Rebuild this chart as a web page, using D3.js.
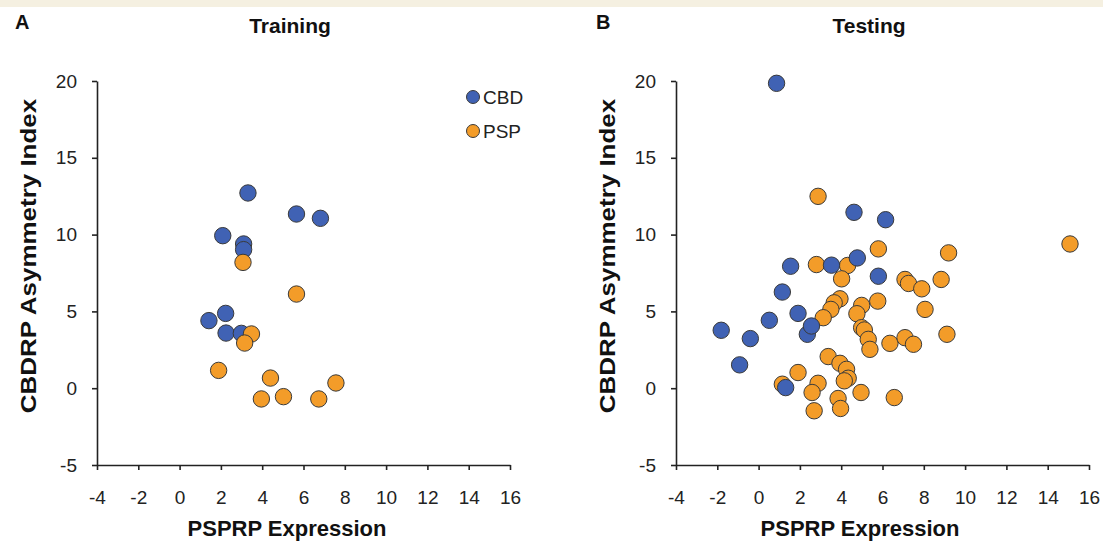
<!DOCTYPE html>
<html>
<head>
<meta charset="utf-8">
<script src="https://cdn.jsdelivr.net/npm/d3@7"></script>
<style>
  body { margin: 0; background: #fff; }
  svg { display: block; font-family: Arial, "Liberation Sans", sans-serif; }
</style>
</head>
<body>
<div id="chart"></div>
<script>
// data: [PSPRP expression, CBDRP asymmetry index]
const trainCBD = [
  [3.31, 12.71], [5.66, 11.34], [6.82, 11.06], [2.09, 9.93], [3.10, 9.39],
  [3.10, 9.02], [2.23, 4.87], [1.42, 4.40], [2.25, 3.59], [2.99, 3.57]
];
const trainPSP = [
  [3.07, 8.19], [5.66, 6.13], [3.48, 3.53], [3.15, 2.94], [1.89, 1.16],
  [4.40, 0.66], [7.57, 0.34], [3.96, -0.70], [5.03, -0.55], [6.74, -0.70]
];
const testCBD = [
  [0.87, 19.85], [4.62, 11.45], [6.15, 10.97], [4.78, 8.48], [3.53, 8.01],
  [1.55, 7.94], [5.80, 7.29], [1.15, 6.26], [1.91, 4.87], [0.52, 4.42],
  [-1.81, 3.77], [-0.40, 3.23], [2.36, 3.51], [2.56, 4.05], [-0.92, 1.52],
  [1.31, 0.04]
];
const testPSP = [
  [2.88, 12.49], [15.08, 9.39], [5.80, 9.07], [9.20, 8.81], [2.80, 8.05],
  [4.31, 7.99], [4.02, 7.12], [7.09, 7.08], [7.26, 6.82], [8.84, 7.08],
  [7.90, 6.47], [5.77, 5.67], [3.94, 5.82], [3.66, 5.56], [3.50, 5.13],
  [4.99, 5.39], [8.06, 5.13], [3.13, 4.59], [4.76, 4.85], [4.99, 3.94],
  [5.12, 3.79], [5.31, 3.18], [5.39, 2.53], [6.36, 2.92], [7.09, 3.29],
  [7.50, 2.86], [9.12, 3.51], [3.37, 2.06], [3.94, 1.62], [4.26, 1.23],
  [4.34, 0.65], [4.15, 0.48], [1.91, 1.02], [1.15, 0.26], [2.88, 0.32],
  [2.59, -0.28], [3.85, -0.67], [3.97, -1.32], [2.69, -1.47], [4.96, -0.28],
  [6.57, -0.61]
];

const xTicks = [-4, -2, 0, 2, 4, 6, 8, 10, 12, 14, 16];
const yTicks = [-5, 0, 5, 10, 15, 20];
const groups = ["CBD", "PSP"];
const colors = { CBD: "#4062b4", PSP: "#f39c29" };

const W = 1103, H = 542;
const plotW = 413, yTop = 81, yBot = 465;

const svg = d3.select("#chart").append("svg")
  .attr("width", W).attr("height", H);

// cream strip along the top edge
svg.append("rect").attr("x", 0).attr("y", 0).attr("width", W).attr("height", 7)
  .attr("fill", "#f5f0e1");

const panels = [
  { left: 97, letter: "A", letterX: 15, title: "Training", titleX: 290,
    xTitleX: 287, yTitleX: 36, cbd: trainCBD, psp: trainPSP, blueOnTop: false, legend: true },
  { left: 676, letter: "B", letterX: 596, title: "Testing", titleX: 869,
    xTitleX: 860, yTitleX: 615, cbd: testCBD, psp: testPSP, blueOnTop: true, legend: false }
];

panels.forEach(p => {
  const x = d3.scaleLinear().domain([-4, 16]).range([p.left, p.left + plotW]);
  const y = d3.scaleLinear().domain([-5, 20]).range([yBot, yTop]);

  svg.append("text").attr("x", p.letterX).attr("y", 29)
    .style("font-size", "20px").style("font-weight", "bold").style("fill", "#111")
    .text(p.letter);

  svg.append("text").attr("x", p.titleX).attr("y", 33).attr("text-anchor", "middle")
    .style("font-size", "21px").style("font-weight", "bold").style("fill", "#111")
    .text(p.title);

  // axes
  const gx = svg.append("g").attr("transform", `translate(0,${yBot})`)
    .call(d3.axisBottom(x).tickValues(xTicks).tickFormat(d => String(d))
      .tickSize(5).tickSizeOuter(0).tickPadding(21));
  const gy = svg.append("g").attr("transform", `translate(${p.left},0)`)
    .call(d3.axisLeft(y).tickValues(yTicks).tickFormat(d => String(d))
      .tickSize(5).tickSizeOuter(0).tickPadding(15));
  [gx, gy].forEach(g => {
    g.select(".domain").attr("stroke", "#222").attr("stroke-width", 1.6);
    g.selectAll(".tick line").attr("stroke", "#222").attr("stroke-width", 1.6);
    g.selectAll(".tick text").style("font-size", "19px").style("fill", "#222")
      .style("font-family", "Arial, 'Liberation Sans', sans-serif");
  });

  svg.append("text").attr("x", p.xTitleX).attr("y", 536).attr("text-anchor", "middle")
    .style("font-size", "22px").style("font-weight", "bold").style("fill", "#111")
    .text("PSPRP Expression");

  // the source figure is stretched vertically, so the rotated title runs longer
  svg.append("text")
    .attr("transform", `translate(${p.yTitleX},256) rotate(-90) scale(1.18,1)`)
    .attr("text-anchor", "middle")
    .style("font-size", "22px").style("font-weight", "bold").style("fill", "#111")
    .text("CBDRP Asymmetry Index");

  // points
  const order = p.blueOnTop ? [["PSP", p.psp], ["CBD", p.cbd]] : [["CBD", p.cbd], ["PSP", p.psp]];
  order.forEach(([name, pts]) => {
    svg.append("g").selectAll("circle")
      .data(pts)
      .join("circle")
      .attr("cx", d => x(d[0]))
      .attr("cy", d => y(d[1]))
      .attr("r", 8.2)
      .attr("fill", colors[name])
      .attr("stroke", "#3a3a3a")
      .attr("stroke-width", 1);
  });

  if (p.legend) {
    const lg = svg.append("g").selectAll("g")
      .data(groups)
      .join("g")
      .attr("transform", (d, i) => `translate(473,${97 + i * 34})`);
    lg.append("circle").attr("r", 6.5)
      .attr("fill", d => colors[d]).attr("stroke", "#3a3a3a").attr("stroke-width", 1);
    lg.append("text").attr("x", 10).attr("y", 7)
      .style("font-size", "19px").style("fill", "#222")
      .text(d => d);
  }
});
</script>
</body>
</html>
